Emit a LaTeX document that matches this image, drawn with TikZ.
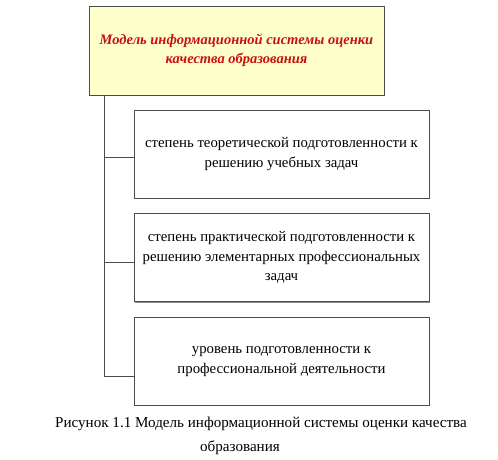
\documentclass[tikz,border=0pt]{standalone}
\usepackage{fontspec}
\setmainfont{Liberation Serif}
\usetikzlibrary{positioning,shadows}

\definecolor{paleyellow}{RGB}{255,255,204}
\definecolor{titlered}{RGB}{200,16,16}

\begin{document}
\begin{tikzpicture}[
    x=1pt, y=-1pt,
    node distance=15pt,
    box/.style={rectangle, draw=black!70, line width=0.7pt, fill=white,
                drop shadow={shadow xshift=1pt, shadow yshift=-1pt, fill=black!45, opacity=1},
                minimum width=295pt, minimum height=88pt, align=center,
                font=\fontsize{14.8}{19.5}\selectfont},
    title box/.style={box, fill=paleyellow, minimum height=89pt, text=titlered,
                font=\fontsize{14.5}{18.5}\selectfont\bfseries\itshape},
    link/.style={draw=black!70, line width=0.8pt},
    caption/.style={font=\fontsize{15.1}{24}\selectfont}
]
\useasboundingbox (0,0) rectangle (498,460);

% Top box - the model
\node[title box] (model) at (236.5,50.5)
    {Модель информационной системы оценки\\качества образования};

% Three levels of the model
\node[box] (lvl1) at (281.5,154)
    {степень теоретической подготовленности к\\решению учебных задач};
\node[box, below=15pt of lvl1] (lvl2)
    {степень практической подготовленности к\\решению элементарных профессиональных\\задач};
\node[box, below=15pt of lvl2] (lvl3)
    {уровень подготовленности к\\профессиональной деятельности};

% Trunk line from the model down to the levels
\coordinate (trunk) at ([xshift=16pt]model.south west);
\draw[link] (trunk) |- ([yshift=-3pt]lvl1.west);
\draw[link] (trunk) |- ([yshift=-5pt]lvl2.west);
\draw[link] (trunk) |- ([yshift=-15pt]lvl3.west);

% Caption
\node[caption] (cap1) at (261,424)
    {Рисунок 1.1 Модель информационной системы оценки качества};
\node[caption] (cap2) at (240,448) {образования};

\end{tikzpicture}
\end{document}
